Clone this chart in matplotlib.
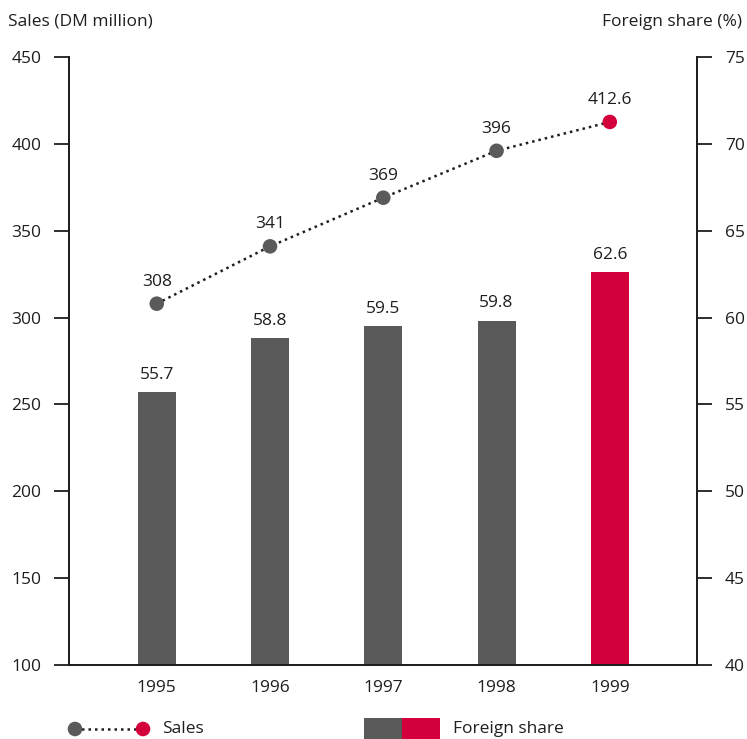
import matplotlib
matplotlib.use('Agg')
import matplotlib.pyplot as plt
from matplotlib.patches import Rectangle
from matplotlib.lines import Line2D

# Sales and foreign share, 1995-1999
years = ['1995', '1996', '1997', '1998', '1999']
sales = [308, 341, 369, 396, 412.6]
sales_labels = ['308', '341', '369', '396', '412.6']
foreign_share = [55.7, 58.8, 59.5, 59.8, 62.6]
share_labels = ['55.7', '58.8', '59.5', '59.8', '62.6']

GREY = '#5a5a5a'
RED = '#d4003c'
TXT = '#1e1e1e'
FS = 12.5

plt.rcParams['font.family'] = ['Open Sans', 'DejaVu Sans']

fig = plt.figure(figsize=(7.47, 7.39), dpi=100)
W, H = 747, 739


def px_axes(x0, y0, x1, y1):
    # pixel box (top-left origin) -> figure fraction rect
    return [x0 / W, 1 - y1 / H, (x1 - x0) / W, (y1 - y0) / H]


ax = fig.add_axes(px_axes(69, 57, 697, 665))
ax2 = ax.twinx()
ax.set_zorder(ax2.get_zorder() + 1)
ax.patch.set_visible(False)

x = list(range(len(years)))

# bars on the right-hand axis
bar_colors = [GREY] * (len(years) - 1) + [RED]
ax2.bar(x, foreign_share, width=0.335, color=bar_colors, zorder=2)
for xi, v, lab in zip(x, foreign_share, share_labels):
    ax2.annotate(lab, (xi, v), xytext=(0, 7), textcoords='offset points',
                 ha='center', va='bottom', fontsize=FS, color=TXT)

# sales line on the left-hand axis
ax.plot(x, sales, linestyle=(0, (1, 1.6)), color=TXT, lw=1.8, zorder=3)
marker_colors = [GREY] * (len(years) - 1) + [RED]
ax.scatter(x, sales, s=110, c=marker_colors, zorder=4, edgecolors='none')
for xi, v, lab in zip(x, sales, sales_labels):
    ax.annotate(lab, (xi, v), xytext=(0, 10), textcoords='offset points',
                ha='center', va='bottom', fontsize=FS, color=TXT)

ax.set_xlim(-0.775, 4.77)
ax.set_ylim(100, 450)
ax.set_yticks(range(100, 451, 50))
ax2.set_ylim(40, 75)
ax2.set_yticks(range(40, 76, 5))
ax.set_xticks(x)
ax.set_xticklabels(years)

for a in (ax, ax2):
    a.spines['top'].set_visible(False)
    for s in a.spines.values():
        s.set_linewidth(1.3)
        s.set_color(TXT)
ax.tick_params(axis='y', direction='out', length=11, width=1.3, pad=9,
               labelsize=FS, colors=TXT)
ax2.tick_params(axis='y', direction='out', length=11, width=1.3, pad=9,
                labelsize=FS, colors=TXT)
ax.tick_params(axis='x', length=0, pad=11, labelsize=FS, colors=TXT)

fig.text(8 / W, 1 - 22 / H, 'Sales (DM million)', fontsize=FS, ha='left',
         va='center', color=TXT)
fig.text(742 / W, 1 - 22 / H, 'Foreign share (%)', fontsize=FS, ha='right',
         va='center', color=TXT)

# legend drawn in pixel space at the bottom
lg = fig.add_axes([0, 0, 1, 1], zorder=-1)
lg.set_xlim(0, W)
lg.set_ylim(H, 0)
lg.axis('off')
lg.add_line(Line2D([75, 143], [729, 729], linestyle=(0, (1, 1.6)), color=TXT, lw=1.8))
lg.scatter([75], [729], s=110, c=GREY, zorder=3, edgecolors='none')
lg.scatter([143], [729], s=110, c=RED, zorder=3, edgecolors='none')
lg.text(162, 729, 'Sales', fontsize=FS, va='center', color=TXT)
lg.add_patch(Rectangle((364, 718), 38, 22, color=GREY, lw=0))
lg.add_patch(Rectangle((402, 718), 38, 22, color=RED, lw=0))
lg.text(453, 729, 'Foreign share', fontsize=FS, va='center', color=TXT)

fig.savefig('out.png', dpi=100)
